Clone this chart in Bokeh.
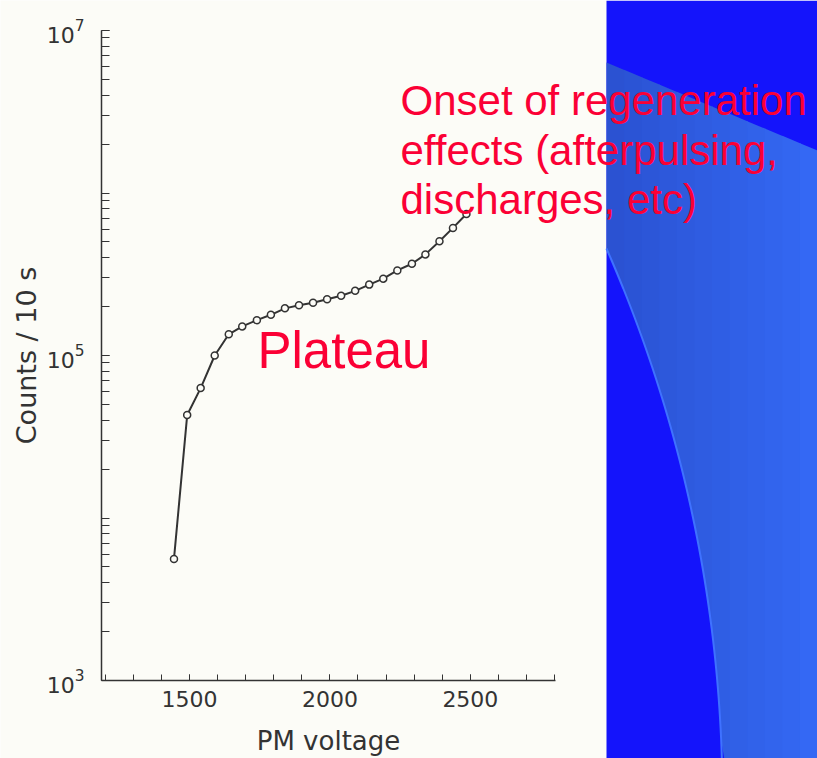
import math
from bokeh.plotting import figure
from bokeh.models import FixedTicker, Label, Range1d, LogTickFormatter, GridBox
from bokeh.embed import file_html
from bokeh.resources import INLINE

# ---- data ----
voltage = [1445, 1492, 1540, 1590, 1640, 1688, 1740, 1790, 1840, 1890, 1940,
           1990, 2040, 2090, 2140, 2190, 2240, 2292, 2340, 2390, 2438, 2486]
counts = [5600, 43000, 63000, 100000, 135000, 151000, 165000, 178000, 195000,
          204000, 211000, 222000, 233000, 250000, 273000, 297000, 334000,
          367000, 419000, 505000, 610000, 742000]
x_major = [1500, 2000, 2500]
x_minor = [1200, 1300, 1400, 1500, 1600, 1700, 1800, 1900, 2000, 2100, 2200,
           2300, 2400, 2500, 2600, 2700, 2800]
y_major = [1e3, 1e5, 1e7]
y_minor = [k * 10 ** n for n in range(3, 7) for k in range(1, 10)] + [1e7]
notes = ["Onset of regeneration", "effects (afterpulsing,", "discharges, etc)"]
plateau = "Plateau"

BG = "#fcfcf7"
INK = "#333333"
RED = "#fb0035"
W, H = 817, 758


def pixel_figure():
    f = figure(width=W, height=H, x_range=Range1d(0, W), y_range=Range1d(H, 0),
               x_axis_location=None, y_axis_location=None,
               output_backend="svg", toolbar_location=None, min_border=0,
               frame_align=False)
    f.outline_line_color = None
    f.grid.visible = False
    return f


# ---- layer 1: page background with the blue slide panel ----
bg = pixel_figure()
bg.background_fill_color = BG
bg.border_fill_color = BG
PX0 = 606
bg.quad(left=PX0, right=W, top=0, bottom=H, fill_color="#1414fb", line_color=None)
cx, cy, R = -649.0, 800.0, 1371.0


def y_top(x):
    return 62 + (x - PX0) * (88.0 / (W - PX0))


def y_bot(x):
    d = R * R - (x - cx) ** 2
    if d <= 0:
        return H
    return min(H, cy - math.sqrt(d))


n = 12
sw = (W - PX0) / n
c0, c1 = (0x2b, 0x52, 0xd2), (0x34, 0x68, 0xf4)
sx, sy, cols = [], [], []
for i in range(n):
    x0 = PX0 + i * sw
    x1 = x0 + sw + 0.8
    t = i / (n - 1)
    cols.append("#%02x%02x%02x" % tuple(int(a + (b - a) * t) for a, b in zip(c0, c1)))
    xb = [x1 - (x1 - x0) * k / 6 for k in range(7)]
    sx.append([x0, x1] + xb)
    sy.append([y_top(x0), y_top(x1)] + [y_bot(x) for x in xb])
bg.patches(sx, sy, fill_color=cols, line_color=None)
arc_y = [248 + k * 10 for k in range(52)]
arc_x = [cx + math.sqrt(R * R - (yy - cy) ** 2) for yy in arc_y]
bg.line(arc_x, arc_y, line_color="#3f72ff", line_width=2)

# ---- layer 2: the chart ----
p = figure(width=W, height=H,
           x_range=Range1d(1187, 2803), y_range=Range1d(1e3, 1e7),
           y_axis_type="log", output_backend="svg", toolbar_location=None,
           min_border_left=101, min_border_right=W - 555, min_border_top=30,
           min_border_bottom=H - 684, frame_align=False)
p.background_fill_alpha = 0
p.border_fill_alpha = 0
p.outline_line_color = None
p.grid.visible = False

p.line(voltage, counts, line_color=INK, line_width=2)
p.scatter(voltage, counts, marker="circle", size=7, fill_color=BG,
          line_color=INK, line_width=1.5)

xa = p.xaxis[0]
xa.ticker = FixedTicker(ticks=x_major, minor_ticks=x_minor)
xa.axis_label = "PM voltage"
ya = p.yaxis[0]
ya.ticker = FixedTicker(ticks=y_major, minor_ticks=y_minor)
ya.formatter = LogTickFormatter()
ya.axis_label = "Counts / 10 s"
for ax in (xa, ya):
    ax.axis_line_color = INK
    ax.axis_line_width = 1.5
    ax.major_tick_line_color = INK
    ax.minor_tick_line_color = INK
    ax.major_tick_out = 0
    ax.minor_tick_out = 0
    ax.major_label_text_color = INK
    ax.major_label_text_font = "DejaVu Sans"
    ax.axis_label_text_font = "DejaVu Sans"
    ax.axis_label_text_color = INK
    ax.axis_label_text_font_style = "normal"
xa.major_tick_in = 6
xa.minor_tick_in = 6
xa.major_label_text_font_size = "22px"
xa.major_label_standoff = 10
xa.axis_label_text_font_size = "26px"
xa.axis_label_standoff = 16
ya.major_tick_in = 8
ya.minor_tick_in = 8
ya.major_label_text_font_size = "22px"
ya.major_label_standoff = 17
ya.axis_label_text_font_size = "27px"
ya.axis_label_standoff = 2

# ---- layer 3: slide text overlay (pixel positions) ----
ov = pixel_figure()
ov.background_fill_alpha = 0
ov.border_fill_alpha = 0
for txt, base in zip(notes, [100, 150, 199]):
    ov.add_layout(Label(x=400, y=base, text=txt, text_color=RED,
                        text_font="Liberation Sans", text_font_size="42px",
                        text_baseline="alphabetic"))
ov.add_layout(Label(x=257, y=350, text=plateau, text_color=RED,
                    text_font="Liberation Sans", text_font_size="51px",
                    text_baseline="alphabetic"))

grid = GridBox(children=[(bg, 0, 0), (p, 0, 0), (ov, 0, 0)])
open("out.html", "w").write(file_html(grid, INLINE))
